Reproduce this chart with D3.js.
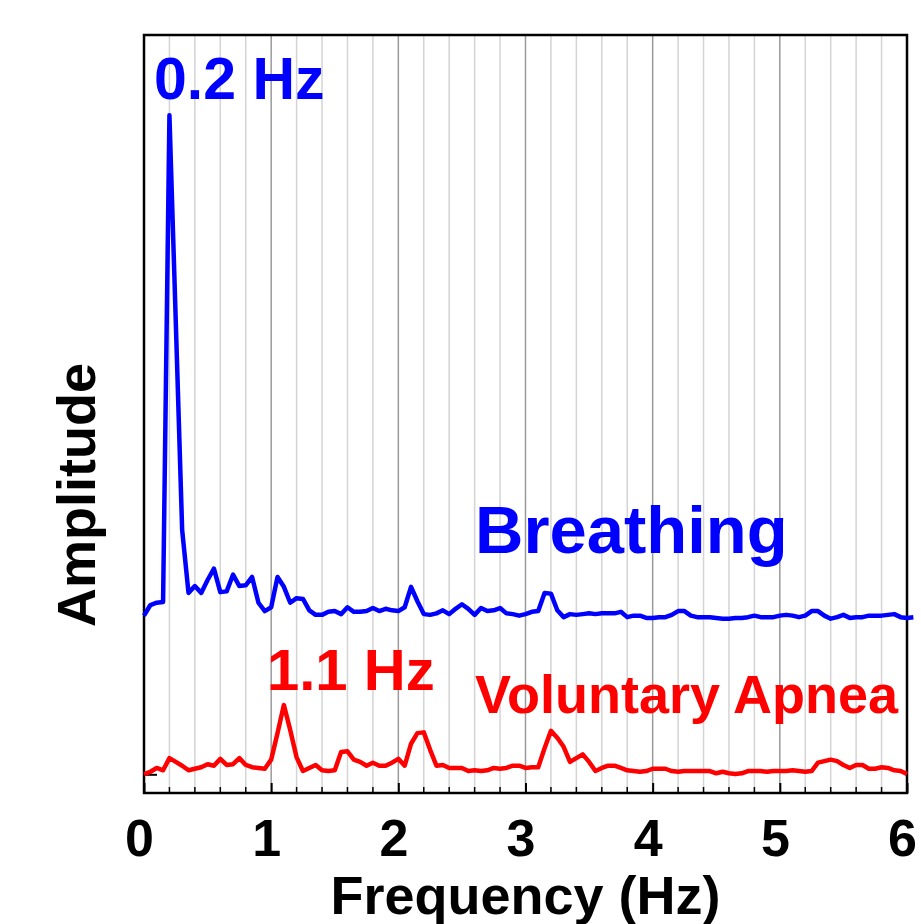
<!DOCTYPE html>
<html>
<head>
<meta charset="utf-8">
<script src="https://cdn.jsdelivr.net/npm/d3@7"></script>
<style>
  body { margin: 0; background: #fff; }
  text { font-family: "Liberation Sans", Arial, sans-serif; font-weight: bold; }
</style>
</head>
<body>
<svg id="chart"></svg>
<script>
// spectrum sampled every 0.05 Hz, amplitudes in arbitrary units (curves offset vertically)
const freqStep = 0.05;
const breathing = [
  23.4, 24.8, 25.1, 25.2, 89.4, 62.1, 34.7, 26.4, 27.3, 26.4,
  28.1, 29.6, 26.5, 26.6, 28.8, 27.3, 27.4, 28.5, 25.1, 24.0,
  24.5, 28.5, 27.2, 25.1, 25.7, 25.6, 24.1, 23.5, 23.5, 23.9,
  24.0, 23.6, 24.5, 23.9, 23.9, 24.0, 24.4, 24.0, 24.3, 24.1,
  24.0, 24.5, 27.2, 25.3, 23.6, 23.5, 23.7, 24.1, 23.6, 24.3,
  24.9, 24.3, 23.5, 24.4, 24.0, 24.1, 24.4, 23.7, 23.6, 23.4,
  23.6, 23.9, 24.0, 26.4, 26.3, 24.1, 23.2, 23.6, 23.5, 23.6,
  23.7, 23.6, 23.7, 23.7, 23.7, 23.9, 23.2, 23.4, 23.4, 23.1,
  23.1, 23.2, 23.2, 23.5, 24.0, 24.0, 23.4, 23.2, 23.2, 23.2,
  23.1, 23.0, 23.0, 23.1, 23.1, 23.2, 23.4, 23.2, 23.2, 23.2,
  23.4, 23.5, 23.4, 23.2, 23.4, 24.0, 24.0, 23.4, 23.0, 23.2,
  23.5, 23.1, 23.2, 23.2, 23.4, 23.4, 23.4, 23.5, 23.6, 23.2,
  23.1, 23.2
];
const apnea = [
  2.5, 2.8, 3.3, 3.0, 4.6, 4.1, 3.6, 3.0, 3.2, 3.4,
  3.8, 3.6, 4.5, 3.7, 3.8, 4.6, 3.7, 3.4, 3.3, 3.2,
  4.4, 7.9, 11.6, 8.3, 4.7, 2.9, 3.3, 3.7, 3.0, 2.9,
  3.0, 5.4, 5.5, 4.4, 4.1, 3.6, 4.0, 3.6, 3.6, 4.0,
  4.5, 3.6, 6.5, 7.9, 8.0, 5.7, 3.6, 3.7, 3.3, 3.3,
  3.3, 2.9, 3.0, 2.9, 3.0, 3.3, 3.2, 3.3, 3.6, 3.6,
  3.3, 3.4, 3.4, 5.9, 8.2, 7.3, 6.1, 4.1, 4.6, 5.1,
  4.1, 2.9, 3.3, 3.6, 3.6, 3.3, 3.0, 2.9, 2.8, 2.9,
  3.2, 3.2, 3.2, 2.9, 2.8, 2.9, 2.9, 2.9, 2.9, 2.9,
  2.6, 2.8, 2.6, 2.5, 2.6, 2.9, 2.9, 2.9, 2.8, 2.9,
  2.9, 2.9, 3.0, 2.9, 2.8, 2.9, 4.0, 4.2, 4.4, 4.2,
  3.7, 3.3, 3.7, 3.7, 3.2, 3.2, 3.4, 3.3, 3.0, 2.9,
  2.5
];
const xTicks = [0, 1, 2, 3, 4, 5, 6];
const gridStep = 0.2;

const width = 921;
const height = 924;
const margin = { top: 35, right: 14, bottom: 131, left: 144 };

const svg = d3.select("#chart")
  .attr("width", width)
  .attr("height", height);

const x = d3.scaleLinear().domain([0, 6]).range([margin.left, width - margin.right]);
const y = d3.scaleLinear().domain([0, 100]).range([height - margin.bottom, margin.top]);

// vertical grid lines every 0.2 Hz, darker at whole numbers
const gridVals = d3.range(1, 30).map(i => +(i * gridStep).toFixed(1));
svg.append("g")
  .selectAll("line")
  .data(gridVals)
  .join("line")
  .attr("x1", d => x(d))
  .attr("x2", d => x(d))
  .attr("y1", y.range()[1])
  .attr("y2", y.range()[0])
  .attr("stroke", d => Number.isInteger(d) ? "#9a9a9a" : "#d4d4d4")
  .attr("stroke-width", 1.5);

// bottom axis with inward ticks
const xAxis = svg.append("g")
  .attr("transform", `translate(0,${y(0)})`)
  .call(d3.axisBottom(x).tickValues(xTicks).tickFormat(d3.format("d")).tickSizeInner(-10).tickSizeOuter(0).tickPadding(26));
xAxis.select(".domain").remove();
xAxis.selectAll(".tick line").attr("stroke", "#000").attr("stroke-width", 2);
xAxis.selectAll(".tick text")
  .attr("font-size", 52)
  .attr("dx", -5)
  .attr("fill", "#000");

svg.append("g")
  .selectAll("line")
  .data(gridVals.filter(d => !Number.isInteger(d)))
  .join("line")
  .attr("x1", d => x(d))
  .attr("x2", d => x(d))
  .attr("y1", y(0))
  .attr("y2", y(0) - 6)
  .attr("stroke", "#000")
  .attr("stroke-width", 1.5);

// small tick on the left axis
svg.append("line")
  .attr("x1", x(0))
  .attr("x2", x(0) + 13)
  .attr("y1", y(2.4))
  .attr("y2", y(2.4))
  .attr("stroke", "#000")
  .attr("stroke-width", 2);

// frame
svg.append("rect")
  .attr("x", x(0))
  .attr("y", y(100))
  .attr("width", x(6) - x(0))
  .attr("height", y(0) - y(100))
  .attr("fill", "none")
  .attr("stroke", "#000")
  .attr("stroke-width", 2.5);

// spectra
const line = d3.line()
  .x((d, i) => x(i * freqStep))
  .y(d => y(d))
  .curve(d3.curveLinear);

svg.append("path")
  .datum(apnea)
  .attr("d", line)
  .attr("fill", "none")
  .attr("stroke", "#ff0000")
  .attr("stroke-width", 4.5)
  .attr("stroke-linejoin", "round");

svg.append("path")
  .datum(breathing)
  .attr("d", line)
  .attr("fill", "none")
  .attr("stroke", "#0000ff")
  .attr("stroke-width", 4.5)
  .attr("stroke-linejoin", "round");

// annotations
svg.append("text")
  .attr("x", 154).attr("y", 99)
  .attr("font-size", 59).attr("fill", "#0000ff")
  .text("0.2 Hz");

svg.append("text")
  .attr("x", 475).attr("y", 553)
  .attr("font-size", 67).attr("fill", "#0000ff")
  .text("Breathing");

svg.append("text")
  .attr("x", 267).attr("y", 690)
  .attr("font-size", 58).attr("fill", "#ff0000")
  .text("1.1 Hz");

svg.append("text")
  .attr("x", 475).attr("y", 713)
  .attr("font-size", 54).attr("fill", "#ff0000")
  .text("Voluntary Apnea");

// axis titles
svg.append("text")
  .attr("x", (x(0) + x(6)) / 2)
  .attr("y", 914)
  .attr("text-anchor", "middle")
  .attr("font-size", 54)
  .text("Frequency (Hz)");

svg.append("text")
  .attr("transform", "translate(95,495) rotate(-90)")
  .attr("text-anchor", "middle")
  .attr("font-size", 54)
  .text("Amplitude");
</script>
</body>
</html>
